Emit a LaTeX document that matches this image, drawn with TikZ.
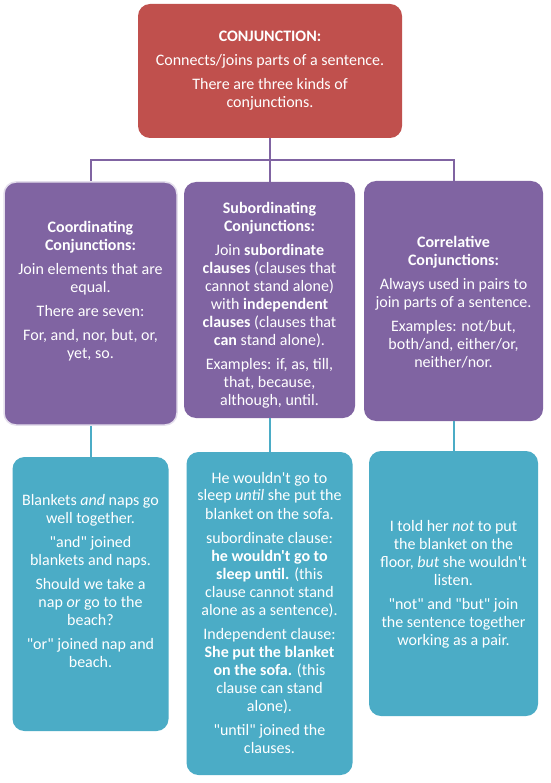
\documentclass[tikz,border=0pt]{standalone}
\usepackage{fontspec}
\setmainfont{Carlito}[Ligatures=TeXOff]
\definecolor{redbox}{HTML}{C0504D}
\definecolor{purplebox}{HTML}{8064A2}
\definecolor{bluebox}{HTML}{4BACC6}
\definecolor{lavender}{HTML}{E4DEEC}
\tikzset{
  box/.style={rounded corners=12pt, inner sep=0pt},
  txt/.style={text=white, align=center, font=\fontsize{16}{18}\selectfont, inner sep=0pt},
  pline/.style={draw=purplebox, line width=2pt},
  bline/.style={draw=bluebox, line width=2pt},
}
\begin{document}
\begin{tikzpicture}[x=1pt,y=1pt]
\useasboundingbox[fill=white] (0,0) rectangle (550,-783);
% boxes
\node[box, fill=redbox, minimum width=264pt, minimum height=134pt] (top) at (270,-71) {};
\node[box, fill=purplebox, draw=lavender, line width=1.5pt, minimum width=173pt, minimum height=243pt] (p1) at (90.5,-303.5) {};
\node[box, fill=purplebox, minimum width=171pt, minimum height=236pt] (p2) at (269.5,-300) {};
\node[box, fill=purplebox, minimum width=179pt, minimum height=240pt] (p3) at (453.5,-301) {};
\node[box, fill=bluebox, minimum width=156pt, minimum height=274pt] (b1) at (90.5,-594) {};
\node[box, fill=bluebox, minimum width=166pt, minimum height=323pt] (b2) at (269.5,-613.5) {};
\node[box, fill=bluebox, minimum width=169pt, minimum height=265pt] (b3) at (453.5,-583.5) {};
% connectors
\coordinate (bus) at (270,-160);
\draw[pline] (top.south) -- (bus);
\draw[pline] (bus) -| (p1.north);
\draw[pline] (bus) -| (p3.north);
\draw[pline] (bus) -- (bus |- p2.north);
\draw[bline] (p1.south) -- (p1.south |- b1.north);
\draw[bline] (p2.south) -- (p2.south |- b2.north);
\draw[bline] (p3.south) -- (p3.south |- b3.north);
% texts
\node[txt] (toptxt) at (270,-71) {\textbf{CONJUNCTION:}\\[6pt]Connects/joins parts of a sentence.\\[6pt]There are three kinds of\\conjunctions.};
\node[txt] (p1txt) at (90.5,-291.5) {\textbf{Coordinating}\\\textbf{Conjunctions:}\\[6pt]Join elements that are\\equal.\\[6pt]There are seven:\\[6pt]For, and, nor, but, or,\\yet, so.};
\node[txt] (p2txt) at (269.5,-305) {\textbf{Subordinating}\\\textbf{Conjunctions:}\\[6pt]Join \textbf{subordinate}\\\textbf{clauses} (clauses that\\cannot stand alone)\\with \textbf{independent}\\\textbf{clauses} (clauses that\\\textbf{can} stand alone).\\[6pt]Examples: if, as, till,\\that, because,\\although, until.};
\node[txt] (p3txt) at (453.5,-302) {\textbf{Correlative}\\\textbf{Conjunctions:}\\[6pt]Always used in pairs to\\join parts of a sentence.\\[6pt]Examples: not/but,\\both/and, either/or,\\neither/nor.};
\node[txt] (b1txt) at (90.5,-581.5) {Blankets \textit{and} naps go\\well together.\\[6pt]"and" joined\\blankets and naps.\\[6pt]Should we take a\\nap \textit{or} go to the\\beach?\\[6pt]"or" joined nap and\\beach.};
\node[txt] (b2txt) at (269.5,-612.5) {He wouldn't go to\\sleep \textit{until} she put the\\blanket on the sofa.\\[6pt]subordinate clause:\\\textbf{he wouldn't go to}\\\textbf{sleep until.} (this\\clause cannot stand\\alone as a sentence).\\[6pt]Independent clause:\\\textbf{She put the blanket}\\\textbf{on the sofa.} (this\\clause can stand\\alone).\\[6pt]"until" joined the\\clauses.};
\node[txt] (b3txt) at (453.5,-584) {I told her \textit{not} to put\\the blanket on the\\floor, \textit{but} she wouldn't\\listen.\\[6pt]"not" and "but" join\\the sentence together\\working as a pair.};
\end{tikzpicture}
\end{document}
